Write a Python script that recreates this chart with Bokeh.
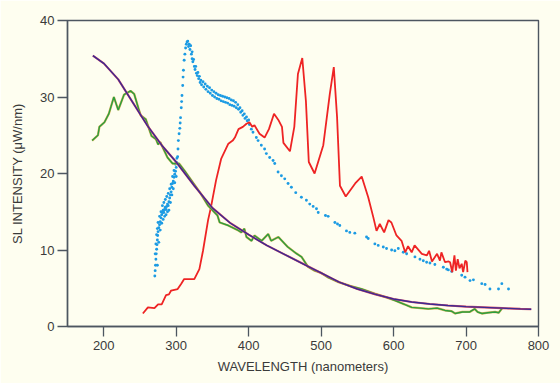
from bokeh.plotting import figure
from bokeh.models import Range1d, FixedTicker
from bokeh.embed import file_html
from bokeh.resources import INLINE

# ---- data ----
fit_x = [185, 200, 220, 240, 260, 280, 300, 325, 350, 375, 400, 425, 450, 475, 500,
         525, 550, 575, 600, 625, 650, 675, 700, 725, 750, 775, 790]
fit_y = [35.4, 34.4, 32.3, 29.3, 26.3, 23.7, 21.5, 18.4, 15.5, 13.5, 12.0, 10.6, 9.4, 8.2, 7.0,
         5.8, 4.9, 4.2, 3.6, 3.2, 2.95, 2.75, 2.6, 2.5, 2.4, 2.3, 2.25]

green_x = [184, 192, 194, 201, 207, 214, 220, 228, 237, 242, 248, 251, 258, 266, 272, 275, 278,
           288, 295, 304, 312, 321, 333, 344, 352, 357, 360, 372, 385, 390, 394, 397, 404, 408,
           418, 427, 431, 441, 454, 465, 473, 482, 491, 500, 510, 524, 540, 556, 574, 590, 602,
           615, 625, 637, 648, 660, 671, 680, 685, 695, 705, 712, 716, 722, 730, 740, 745, 750]
green_y = [24.3, 25.0, 26.1, 26.7, 27.8, 30.0, 28.3, 30.3, 30.8, 30.4, 28.5, 27.6, 27.1, 24.9,
           24.5, 23.8, 24.1, 22.1, 21.3, 21.3, 20.3, 19.1, 17.5, 15.8, 15.0, 14.5, 13.6, 13.2,
           12.6, 12.3, 12.8, 11.7, 11.2, 11.9, 11.2, 12.1, 11.2, 11.7, 10.4, 9.6, 9.1, 7.8, 7.3,
           7.0, 6.4, 5.8, 5.3, 4.9, 4.3, 3.8, 3.4, 2.9, 2.5, 2.4, 2.3, 2.4, 2.1, 2.0, 1.7, 1.9,
           1.9, 2.3, 1.9, 1.7, 1.8, 1.9, 1.8, 2.4]

red_x = [254, 261, 270, 275, 280, 286, 290, 293, 302, 307, 311, 325, 332, 337, 344, 348, 355,
         362, 372, 378, 381, 386, 392, 397, 401, 405, 408, 415, 422, 428, 435, 441, 446, 448,
         457, 463, 468, 474, 479, 483, 491, 503, 512, 517.5, 522, 526, 534, 547, 556, 565, 572,
         576.5, 581, 587, 593, 597, 604, 611, 616, 620, 625, 629, 639, 646, 649, 653, 660, 664,
         666, 671, 676, 678, 681, 684, 686, 688.5, 691, 694, 696, 699, 701, 702]
red_y = [1.7, 2.5, 2.4, 2.9, 2.9, 4.1, 4.2, 4.7, 4.9, 5.6, 6.2, 6.2, 7.5, 9.9, 13.9, 15.6, 19.1,
         21.9, 23.9, 24.3, 24.7, 25.8, 26.1, 26.5, 26.7, 26.1, 26.3, 25.2, 24.7, 25.8, 27.8,
         27.0, 26.1, 24.0, 22.9, 26.1, 33.0, 35.1, 29.5, 21.5, 20.0, 23.7, 30.4, 33.9, 27.4,
         18.4, 17.0, 18.7, 19.6, 16.9, 14.3, 12.5, 13.4, 12.3, 13.9, 13.6, 11.9, 11.2, 9.7,
         10.5, 9.7, 10.6, 9.5, 9.3, 9.9, 8.5, 9.5, 8.6, 9.7, 8.4, 8.5, 8.4, 7.1, 9.3, 7.3, 8.8,
         7.6, 8.2, 7.1, 8.6, 8.4, 7.1]

blue_x = [270.5, 271, 271.5, 272, 272.5, 273, 273.5, 274, 274.5, 275, 276, 277, 278, 279, 280,
          281, 282, 283, 284, 285, 286, 287, 288, 289, 290, 291, 292, 293, 294, 295, 296, 297,
          298, 299, 300, 301, 302, 302.5, 303, 304, 305, 305.5, 306, 307, 307.5, 308, 309,
          309.5, 310, 311, 312, 313, 314, 315,
          271, 272, 273, 274, 275, 277, 279, 281, 283, 285, 287, 289, 291, 293, 295, 297, 299, 301,
          274, 276, 278, 280, 282, 284, 286, 288, 290, 292, 294, 296, 298, 300,
          316, 317, 318, 319, 320, 321, 322, 322, 323, 324, 325, 326, 327, 328, 329, 330, 331,
          332, 333, 334, 335, 337, 338, 340, 341, 343, 344, 346, 347, 349, 350, 352, 353, 355,
          356, 358, 359, 361, 362, 364, 365, 367, 368, 370, 371, 373, 374, 376, 377, 379, 380,
          382, 383, 385, 386, 388, 389, 391, 392, 394, 395, 397, 398, 400, 401,
          403.7, 406, 410.6, 413, 417.5, 422, 424.4, 429, 433.7, 436, 440.6, 445.2, 449.8, 454.4,
          459, 465, 472.8, 479.7, 484.3, 489, 493.6, 496, 506, 509.7, 519, 522.6, 525.8, 535,
          539.6, 546.5, 562.7, 565, 574.2, 578.8, 585.8, 590.3, 597.3, 601.8, 606.5, 613.4, 618,
          629.5, 636.4, 641, 645.6, 650.2, 657, 668.7, 673.3, 675.6, 680.2, 694, 698.6, 705.5,
          710.2, 721.7, 726.3, 733, 744.8, 749.4, 758.6]
blue_y = [6.6, 7.3, 8.0, 8.8, 9.5, 10.1, 10.7, 11.3, 11.9, 12.4, 12.9, 13.3, 13.7, 14.2, 14.6,
          14.9, 15.2, 14.9, 15.3, 15.6, 15.3, 15.7, 16.0, 15.8, 16.3, 16.8, 17.2, 17.6, 18.2,
          18.7, 19.0, 19.5, 19.9, 20.3, 20.8, 21.4, 22.2, 23.2, 24.3, 25.2, 25.9, 26.6, 27.3,
          28.6, 29.4, 30.2, 31.5, 32.6, 33.5, 34.8, 35.6, 36.4, 36.9, 37.2,
          9.5, 10.8, 12.0, 12.8, 13.6, 14.4, 15.0, 15.8, 16.2, 16.6, 17.0, 17.4, 18.0, 18.6,
          19.6, 20.4, 21.2, 22.0,
          8.0, 11.0, 12.6, 13.5, 14.0, 14.4, 14.6, 15.0, 15.2, 16.2, 17.2, 18.0, 18.8, 19.6,
          37.3, 36.6, 36.9, 36.2, 36.7, 35.6, 35.9, 35.0, 34.6, 34.9, 34.0, 33.6, 34.0, 33.1,
          32.8, 33.2, 32.4, 32.7, 31.9, 32.2, 31.6, 32.0, 31.3, 31.7, 31.0, 31.4, 30.7, 31.2,
          30.5, 30.9, 30.2, 30.7, 30.0, 30.5, 29.8, 30.3, 29.7, 30.2, 29.5, 30.1, 29.4, 30.0,
          29.3, 29.9, 29.2, 29.8, 29.0, 29.6, 28.9, 29.5, 28.8, 29.3, 28.6, 29.0, 28.4, 28.6,
          28.0, 28.2, 27.6, 27.8, 27.2, 27.4, 26.9, 27.0, 26.4,
          25.8, 25.4, 24.7, 24.3, 23.7, 23.2, 22.6, 22.1, 21.7, 21.3, 20.2, 19.7, 19.3, 18.7,
          18.2, 17.5, 16.9, 16.5, 16.0, 15.7, 15.4, 14.9, 14.5, 14.4, 13.6, 13.4, 13.2, 12.5,
          12.3, 12.2, 11.7, 11.5, 10.8, 10.6, 10.4, 10.2, 10.0, 9.9, 10.2, 9.7, 9.5,
          9.1, 8.8, 8.6, 8.4, 8.3, 8.1, 7.75, 7.5, 7.4, 7.2, 6.7, 6.45, 6.0,
          6.1, 5.6, 5.5, 4.9, 4.9, 5.6, 4.9]

x_ticks = [200, 300, 400, 500, 600, 700, 800]
y_ticks = [0, 10, 20, 30, 40]

BG = "#FEFEF0"
INK = "#3a3a3a"
FRAME = "#4d5660"

p = figure(width=560, height=383, output_backend="svg", toolbar_location=None,
           x_range=Range1d(150, 800), y_range=Range1d(0, 40),
           min_border_left=67, min_border_right=22, min_border_top=20, min_border_bottom=57)
p.background_fill_color = BG
p.border_fill_color = BG
p.outline_line_color = FRAME
p.outline_line_width = 1.4
p.grid.visible = False

for ax in (p.xaxis[0], p.yaxis[0]):
    ax.axis_line_color = FRAME
    ax.axis_line_width = 1.4
    ax.major_tick_line_color = FRAME
    ax.major_tick_line_width = 1.3
    ax.major_tick_in = 0
    ax.major_tick_out = 10
    ax.minor_tick_line_color = None
    ax.major_label_text_font = "Liberation Sans"
    ax.major_label_text_font_size = "13px"
    ax.major_label_text_color = INK
    ax.axis_label_text_font = "Liberation Sans"
    ax.axis_label_text_font_size = "13px"
    ax.axis_label_text_font_style = "normal"
    ax.axis_label_text_color = INK

p.xaxis.ticker = FixedTicker(ticks=x_ticks)
p.yaxis.ticker = FixedTicker(ticks=y_ticks)
p.xaxis.axis_label = "WAVELENGTH (nanometers)"
p.yaxis.axis_label = "SL INTENSITY (\u03bcW/nm)"
p.xaxis.major_label_standoff = 4
p.yaxis.major_label_standoff = 3
p.xaxis.axis_label_standoff = 6
p.yaxis.axis_label_standoff = 12

# blue dotted spectrum
p.scatter(blue_x, blue_y, size=2.9, color="#1c9be3", line_color=None)
# red spectrum
p.line(red_x, red_y, line_color="#ee2424", line_width=1.8)
# green spectrum with tan edge
p.line(green_x, green_y, line_color="#d8b25a", line_width=2.3)
p.line(green_x, green_y, line_color="#2c9e3e", line_width=1.4)
# purple fitted curve with red edge
p.line(fit_x, fit_y, line_color="#d9506a", line_width=2.1)
p.line(fit_x, fit_y, line_color="#3b2a92", line_width=1.4)

html = file_html(p, INLINE)
html = html.replace("<body>", '<body style="margin:0;background-color:%s;">' % BG, 1)
open("out.html", "w").write(html)
